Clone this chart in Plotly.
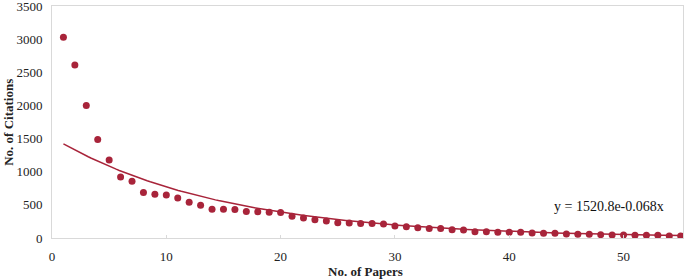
import numpy as np
import plotly.graph_objects as go

papers = list(range(1, 56))
citations = [3030, 2610, 2000, 1485, 1175, 920, 855, 685, 660, 650,
             605, 540, 495, 435, 435, 430, 400, 395, 390, 385,
             330, 300, 275, 255, 230, 225, 220, 220, 210, 180,
             170, 155, 145, 145, 125, 120, 95, 95, 85, 85,
             85, 75, 70, 70, 60, 55, 55, 50, 45, 45,
             40, 40, 40, 30, 30]

fit_a = 1520.8
fit_b = -0.068
fit_label = "y = 1520.8e-0.068x"

x_fit = np.linspace(1, 55, 200)
y_fit = fit_a * np.exp(fit_b * x_fit)

color = "#A8243A"
fig = go.Figure()
fig.add_trace(go.Scatter(x=x_fit, y=y_fit, mode="lines",
                         line=dict(color=color, width=1.5), hoverinfo="skip"))
fig.add_trace(go.Scatter(x=papers, y=citations, mode="markers",
                         marker=dict(color=color, size=7)))

font = "Liberation Serif, Times New Roman, serif"
fig.update_layout(
    width=685, height=280,
    margin=dict(l=52, r=2, t=6, b=42, autoexpand=False),
    plot_bgcolor="white", paper_bgcolor="white",
    showlegend=False,
    font=dict(family=font, size=13, color="#222"),
    xaxis=dict(range=[0, 55.2], tickvals=[0, 10, 20, 30, 40, 50],
               showgrid=False, zeroline=False, showline=True, mirror=True,
               linecolor="#d9d9d9", linewidth=1, ticks="inside", ticklen=3,
               tickcolor="#d9d9d9", ticklabelstandoff=6, automargin=False,
               ticklabeloverflow="allow"),
    yaxis=dict(range=[0, 3500], dtick=500, showgrid=False, zeroline=False,
               showline=True, mirror=True, linecolor="#d9d9d9", linewidth=1,
               ticks="", ticklabelstandoff=6, automargin=False,
               ticklabeloverflow="allow"),
    annotations=[
        dict(x=43.7, xref="x", y=470, yref="y", text=fit_label,
             showarrow=False, xanchor="left", yanchor="middle",
             font=dict(size=14, family=font, color="#111")),
        dict(x=0.497, xref="paper", y=-0.145, yref="paper",
             xanchor="center", yanchor="middle",
             text="<b>No. of Papers</b>", showarrow=False,
             font=dict(size=13, family=font, color="#222")),
        dict(x=-0.07, xref="paper", y=0.5, yref="paper", textangle=-90,
             xanchor="center", yanchor="middle",
             text="<b>No. of Citations</b>", showarrow=False,
             font=dict(size=13, family=font, color="#222")),
    ]
)
fig.write_html("out.html", config={"displayModeBar": False},
               post_script="document.body.style.margin='0px';")
